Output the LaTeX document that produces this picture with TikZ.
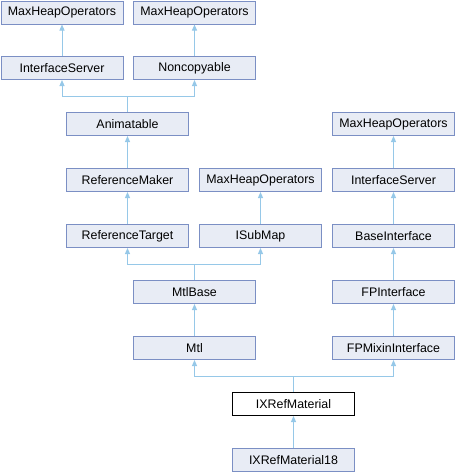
\documentclass[tikz,border=0pt]{standalone}
\usepackage{fontspec}
\setmainfont{Liberation Sans}
\usetikzlibrary{arrows.meta}
\definecolor{boxfill}{RGB}{232,236,245}
\definecolor{boxline}{RGB}{123,143,196}
\definecolor{edgecol}{RGB}{150,200,232}
\begin{document}
\begin{tikzpicture}[x=1pt,y=1pt,
  cls/.style={draw=boxline, fill=boxfill, line width=1pt, minimum width=122pt, minimum height=23pt, inner sep=0pt, anchor=north west, font=\fontsize{12.4}{13}\selectfont},
  cur/.style={cls, draw=black, fill=white},
  edge/.style={draw=edgecol, line width=1pt},
  inh/.style={edge, -{Triangle[length=6pt,width=5pt]}}]
\useasboundingbox (0,0) rectangle (455,-472);
\node[cls] (mh1) at (0.5,-0.5) {MaxHeapOperators};
\node[cls] (mh2) at (133,-0.5) {MaxHeapOperators};
\node[cls] (is1) at (0.5,-56) {InterfaceServer};
\node[cls] (nc) at (133,-56) {Noncopyable};
\node[cls] (anim) at (66,-112) {Animatable};
\node[cls] (rm) at (66,-168) {ReferenceMaker};
\node[cls] (mh3) at (199,-168) {MaxHeapOperators};
\node[cls] (rt) at (66,-224) {ReferenceTarget};
\node[cls] (isub) at (199,-224) {ISubMap};
\node[cls] (mtlbase) at (133,-280) {MtlBase};
\node[cls] (mtl) at (133,-336) {Mtl};
\node[cls] (mh4) at (332,-112) {MaxHeapOperators};
\node[cls] (is2) at (332,-168) {InterfaceServer};
\node[cls] (bi) at (332,-224) {BaseInterface};
\node[cls] (fpi) at (332,-280) {FPInterface};
\node[cls] (fpmi) at (332,-336) {FPMixinInterface};
\node[cur] (ixr) at (232,-392) {IXRefMaterial};
\node[cls] (ixr18) at (232,-448) {IXRefMaterial18};
% single edges
\draw[inh] (is1.north) -- (mh1.south);
\draw[inh] (nc.north) -- (mh2.south);
\draw[inh] (rm.north) -- (anim.south);
\draw[inh] (rt.north) -- (rm.south);
\draw[inh] (isub.north) -- (mh3.south);
\draw[inh] (mtl.north) -- (mtlbase.south);
\draw[inh] (is2.north) -- (mh4.south);
\draw[inh] (bi.north) -- (is2.south);
\draw[inh] (fpi.north) -- (bi.south);
\draw[inh] (fpmi.north) -- (fpi.south);
\draw[inh] (ixr18.north) -- (ixr.south);
% merged edges
\coordinate (j1) at (anim.north |- 0,-96);
\draw[edge] (anim.north) -- (j1);
\draw[inh] (j1) -| (is1.south);
\draw[inh] (j1) -| (nc.south);
\coordinate (j2) at (mtlbase.north |- 0,-264);
\draw[edge] (mtlbase.north) -- (j2);
\draw[inh] (j2) -| (rt.south);
\draw[inh] (j2) -| (isub.south);
\coordinate (j3) at (ixr.north |- 0,-376);
\draw[edge] (ixr.north) -- (j3);
\draw[inh] (j3) -| (mtl.south);
\draw[inh] (j3) -| (fpmi.south);
\end{tikzpicture}
\end{document}
